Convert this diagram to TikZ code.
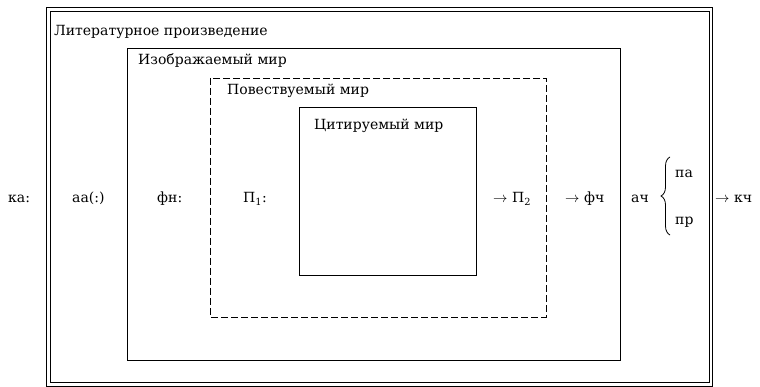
\documentclass[tikz,border=0pt]{standalone}
\usepackage{fontspec}
\setmainfont{DejaVu Serif}
\usetikzlibrary{decorations.pathreplacing}
\begin{document}
\begin{tikzpicture}[x=1pt,y=-1pt,
  lbl/.style={inner sep=0pt,anchor=base west,font=\fontsize{14}{17}\selectfont},
  boxline/.style={line width=0.9pt},
  dashbox/.style={line width=0.9pt,dash pattern=on 7pt off 3pt}]
\useasboundingbox (0,0) rectangle (760,387);
% boxes
\draw[boxline] (46,7) rectangle (712.5,386);
\draw[boxline] (50,11) rectangle (709,382.5);
\draw[boxline] (127,48) rectangle (620,360);
\draw[dashbox] (210,78) rectangle (546,317);
\draw[boxline] (299,107) rectangle (476,275);
% titles
\node[lbl] (t1) at (54,36) {Литературное произведение};
\node[lbl] (t2) at (138,65) {Изображаемый мир};
\node[lbl] (t3) at (227,95) {Повествуемый мир};
\node[lbl] (t4) at (314,130) {Цитируемый мир};
% middle row
\node[lbl] (ka) at (8,203) {ка:};
\node[lbl] (aa) at (72,203) {аа(:)};
\node[lbl] (fn) at (157,203) {фн:};
\node[lbl] (p1) at (243,203) {П\textsubscript{1}:};
\node[lbl] (p2) at (493,203) {$\to$ П\textsubscript{2}};
\node[lbl] (fch) at (565,203) {$\to$ фч};
\node[lbl] (ach) at (631,203) {ач};
\node[lbl] (pa) at (675,178) {па};
\node[lbl] (pr) at (675,225) {пр};
\node[lbl] (kch) at (715,203) {$\to$ кч};
\coordinate (bt) at (670,157);
\coordinate (bb) at (670,235);
\draw[line width=0.8pt,decorate,decoration={brace,amplitude=9pt}] (bb) -- (bt);
\end{tikzpicture}
\end{document}
